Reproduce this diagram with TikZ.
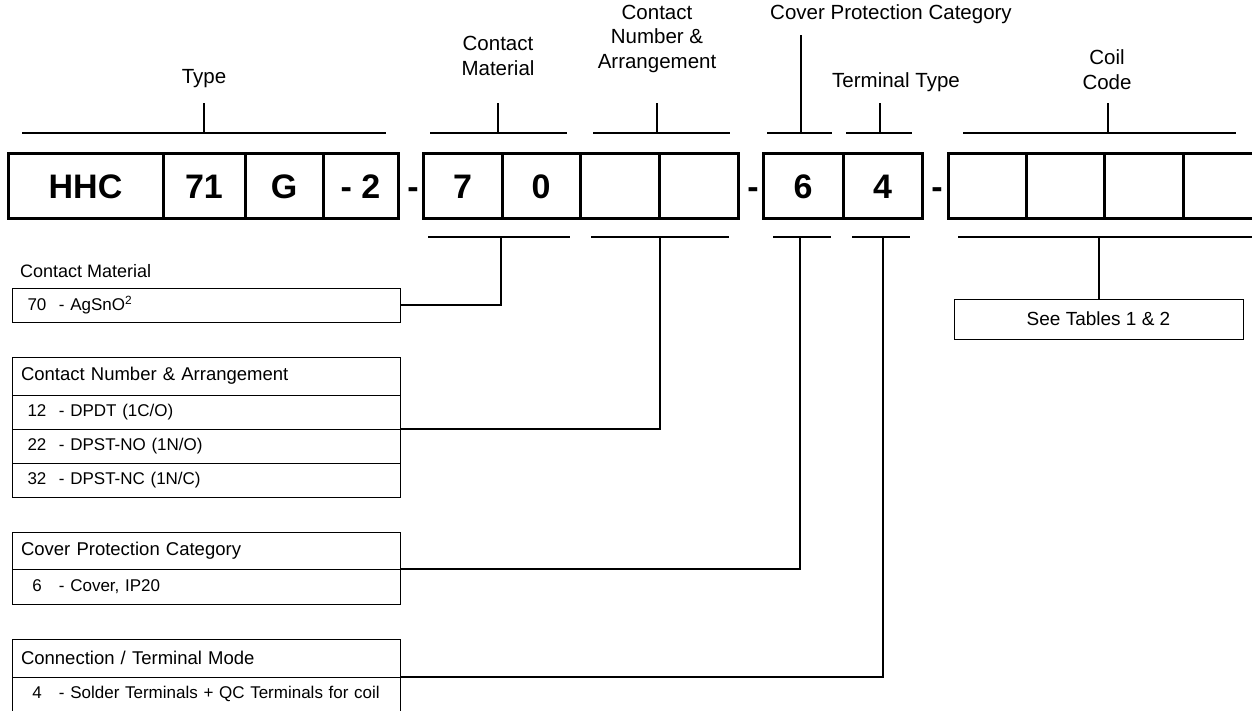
\documentclass[tikz,border=0pt]{standalone}
\usepackage{fontspec}
\setmainfont{Liberation Sans}
\usetikzlibrary{positioning}
\newcommand{\optrow}[2]{\makebox[32pt][c]{#1}\hspace{6pt}- #2}

\begin{document}
\begin{tikzpicture}[x=1pt, y=-1pt,
            codebox/.style = {draw, line width=3pt, outer sep=0pt, inner sep=0pt,
                              minimum height=65pt, anchor=west,
                              font=\fontsize{34pt}{40pt}\selectfont\bfseries},
            dashsign/.style = {inner sep=0pt, anchor=base,
                              font=\fontsize{34pt}{40pt}\selectfont\bfseries},
            toplabel/.style = {align=center, inner sep=0pt,
                              font=\fontsize{20.5pt}{24.5pt}\selectfont},
            bracket/.style = {line width=1.5pt},
            tabcell/.style = {draw, line width=1pt, outer sep=0pt, anchor=north west,
                              text width=370pt, inner xsep=9pt, inner ysep=0pt, align=left,
                              minimum height=34pt, font=\fontsize{17pt}{20pt}\selectfont},
            tabhead/.style = {tabcell, minimum height=38pt,
                              font=\fontsize{18.5pt}{22pt}\selectfont}]
    \useasboundingbox (0,0) rectangle (1252,711);

    % code boxes
    \node[codebox, minimum width=155pt] (hhc) at (8,186.5) {HHC};
    \node[codebox, minimum width=82pt, right=0pt of hhc] (c71) {71};
    \node[codebox, minimum width=78pt, right=0pt of c71] (cG) {G};
    \node[codebox, minimum width=75pt, right=0pt of cG] (c2) {- 2};
    \node[codebox, minimum width=79pt] (c7) at (423,186.5) {7};
    \node[codebox, minimum width=78pt, right=0pt of c7] (c0) {0};
    \node[codebox, minimum width=79pt, right=0pt of c0] (cn1) {};
    \node[codebox, minimum width=79pt, right=0pt of cn1] (cn2) {};
    \node[codebox, minimum width=80pt] (c6) at (763,186.5) {6};
    \node[codebox, minimum width=79pt, right=0pt of c6] (c4) {4};
    \node[codebox, minimum width=78pt] (coil1) at (948,186.5) {};
    \node[codebox, minimum width=78pt, right=0pt of coil1] (coil2) {};
    \node[codebox, minimum width=79pt, right=0pt of coil2] (coil3) {};
    \node[codebox, minimum width=78pt, right=0pt of coil3] (coil4) {};
    \node[dashsign] (d1) at (413,199) {-};
    \node[dashsign] (d2) at (753,199) {-};
    \node[dashsign] (d3) at (937,199) {-};

    % labels above
    \node[toplabel] (lType) at (204,79) {Type};
    \node[toplabel] (lMat) at (498,56) {Contact\\Material};
    \node[toplabel] (lNum) at (657,38.5) {Contact\\Number \&\\Arrangement};
    \node[toplabel] (lCover) at (891,14) {Cover Protection Category};
    \node[toplabel] (lTerm) at (896,82) {Terminal Type};
    \node[toplabel] (lCoil) at (1107,69.5) {Coil\\Code};

    \draw[bracket] (22,133) -- (386,133) (204,133) -- (204,103);
    \draw[bracket] (430,133) -- (567,133) (498,133) -- (498,103);
    \draw[bracket] (593,133) -- (730,133) (657,133) -- (657,103);
    \draw[bracket] (767,133) -- (832,133) (801,133) -- (801,35);
    \draw[bracket] (846,133) -- (912,133) (880,133) -- (880,103);
    \draw[bracket] (963,133) -- (1236,133) (1108,133) -- (1108,103);

    % option tables
    \node[anchor=west, inner sep=0pt, font=\fontsize{18pt}{21pt}\selectfont] (lMatTab) at (20,271) {Contact Material};
    \node[tabcell] (cm70) at (12,288) {\optrow{70}{AgSnO\textsuperscript{2}}};

    \node[tabhead] (cnHead) at (12,357) {Contact Number \& Arrangement};
    \node[tabcell, below=0pt of cnHead] (cn12) {\optrow{12}{DPDT (1C/O)}};
    \node[tabcell, below=0pt of cn12] (cn22) {\optrow{22}{DPST-NO (1N/O)}};
    \node[tabcell, below=0pt of cn22] (cn32) {\optrow{32}{DPST-NC (1N/C)}};

    \node[tabhead, minimum height=37pt] (cpHead) at (12,532) {Cover Protection Category};
    \node[tabcell, minimum height=35pt, below=0pt of cpHead] (cp6) {\optrow{6}{Cover, IP20}};

    \node[tabhead] (ctHead) at (12,639) {Connection / Terminal Mode};
    \node[tabcell, below=0pt of ctHead] (ct4) {\optrow{4}{Solder Terminals + QC Terminals for coil}};

    \node[draw, line width=1pt, minimum width=289pt, minimum height=40pt,
          font=\fontsize{19pt}{22pt}\selectfont] (seeTab) at (1098.5,319) {See Tables 1 \& 2};

    % brackets below
    \coordinate (cmB) at (501,237);
    \coordinate (cnB) at (660,237);
    \coordinate (cpB) at (800,237);
    \coordinate (ctB) at (883,237);
    \coordinate (coB) at (1099,237);
    \draw[bracket] (428,237) -- (570,237);
    \draw[bracket] (591,237) -- (729,237);
    \draw[bracket] (773,237) -- (831,237);
    \draw[bracket] (852,237) -- (910,237);
    \draw[bracket] (958,237) -- (1262,237);
    \draw[bracket] (cmB) |- (cm70.east);
    \draw[bracket] (cnB) |- (cn12.south east);
    \draw[bracket] (cpB) |- (cpHead.south east);
    \draw[bracket] (ctB) |- (ctHead.south east);
    \draw[bracket] (coB) -- (coB |- seeTab.north);
\end{tikzpicture}
\end{document}
